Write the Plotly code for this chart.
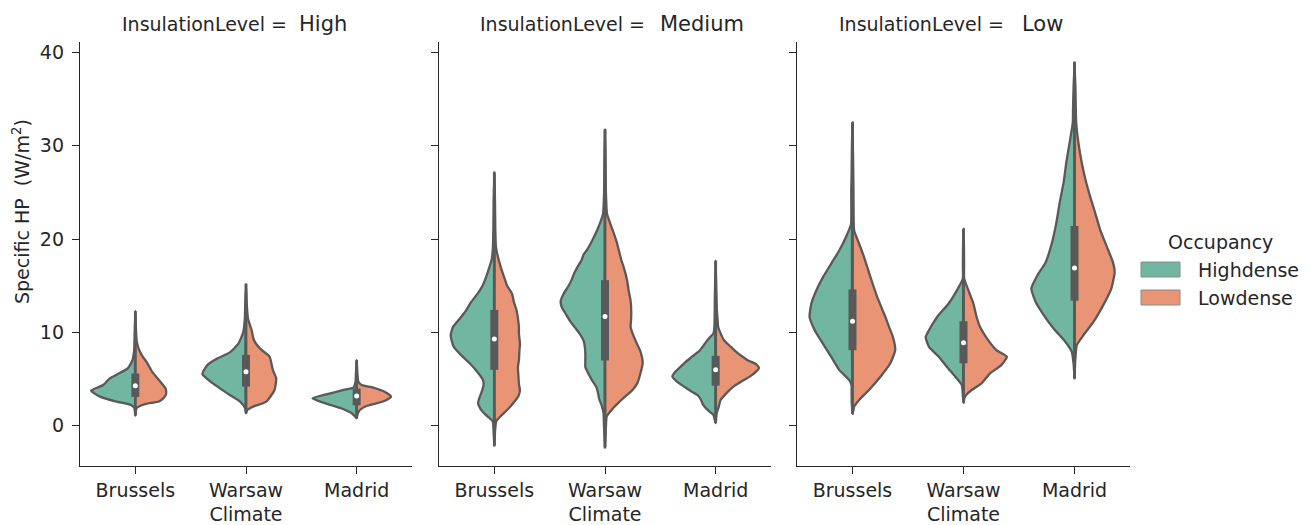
import plotly.graph_objects as go

# ---------------- data ----------------
climates = ["Brussels", "Warsaw", "Madrid"]
levels = ["High", "Medium", "Low"]
occupancy = ["Highdense", "Lowdense"]

# violin half profiles: (Specific HP value, relative density width)
high_brussels_highdense = [(1.1, 0), (1.9, 1), (2.24, 4.3), (2.6, 19.3), (3.13, 36), (3.5, 42), (3.77, 45),
                           (4.37, 32.7), (5.08, 26), (5.55, 17.7), (6.15, 7.7), (7.0, 3), (8.1, 1.2), (9.5, 0.8), (12.3, 0)]
high_brussels_lowdense = [(1.1, 0), (1.9, 1.3), (2.35, 10.7), (2.6, 24), (3.0, 29), (3.4, 31.3), (4.0, 30.7),
                          (4.9, 24), (5.8, 17), (6.7, 12.3), (7.5, 7), (8.1, 4), (9.0, 1.5), (10.0, 0.8), (12.3, 0)]
high_warsaw_highdense = [(1.35, 0), (1.9, 1), (2.6, 6), (3.5, 19.3), (4.73, 36), (5.55, 44.3), (6.5, 39.3),
                         (7.2, 29.3), (7.9, 16), (8.8, 7.7), (10.06, 2.7), (11.5, 1.2), (13.0, 0.8), (15.2, 0)]
high_warsaw_lowdense = [(1.35, 0), (1.7, 1.3), (2.06, 7.3), (2.6, 20.7), (3.84, 29), (5.08, 30.7), (5.97, 27.3),
                        (7.4, 24), (8.3, 14), (9.2, 8), (10.24, 5.7), (11.5, 2), (13.0, 0.8), (15.2, 0)]
high_madrid_highdense = [(0.82, 0), (1.0, 1.7), (1.35, 5), (1.78, 13.3), (2.35, 30), (2.95, 45), (3.4, 30),
                         (3.84, 13.3), (4.1, 3.3), (4.7, 1.2), (5.5, 0.8), (7.04, 0)]
high_madrid_lowdense = [(0.82, 0), (1.3, 1), (1.7, 3.3), (2.13, 10), (2.6, 26.7), (3.13, 35), (3.66, 28.3),
                        (4.1, 16.7), (4.37, 5), (4.73, 1.7), (5.5, 0.8), (7.04, 0)]

medium_brussels_highdense = [(-2.1, 0), (-0.5, 0.8), (0.5, 1.7), (1.2, 9), (1.8, 14), (2.4, 16.5), (2.9, 15.5),
                             (3.6, 13), (4.3, 11), (4.9, 11.5), (5.6, 16), (6.7, 25), (7.6, 34), (8.5, 41.5),
                             (9.7, 44.4), (10.6, 42), (11.5, 35), (12.4, 28.5), (13.2, 24), (14.15, 17),
                             (15.0, 12), (15.9, 8.5), (17.0, 5), (17.8, 2.7), (19.0, 1.5), (21.0, 1.0),
                             (24.0, 0.7), (27.1, 0)]
medium_brussels_lowdense = [(-2.1, 0), (-0.5, 0.8), (0.5, 2), (1.2, 8), (1.8, 14), (2.6, 20.5), (3.2, 24.5),
                            (3.8, 26), (4.5, 25), (5.3, 24.5), (6.3, 24), (7.04, 25), (8.0, 25.5), (8.8, 26),
                            (9.9, 25), (10.6, 25), (11.5, 24), (12.4, 22.5), (13.2, 20), (14.15, 18),
                            (15.0, 13), (15.6, 11), (17.0, 6.5), (18.4, 3), (19.1, 1.7), (21.0, 1.0),
                            (24.0, 0.7), (27.1, 0)]
medium_warsaw_highdense = [(-2.3, 0), (-0.5, 0.8), (0.5, 1.2), (1.35, 1.5), (2.06, 3), (2.9, 6), (3.5, 7),
                           (4.2, 9), (4.9, 13.3), (5.6, 17), (6.3, 20), (7.0, 20), (7.75, 20), (8.46, 20.5),
                           (9.17, 22), (9.9, 26), (10.6, 31), (11.3, 36), (12.0, 40), (12.7, 44), (13.4, 45),
                           (14.15, 42), (15.0, 37), (15.6, 34), (16.3, 31.5), (17.0, 28), (17.7, 24),
                           (18.4, 21.5), (18.8, 18.5), (19.84, 13), (21.26, 6.7), (22.7, 2), (23.4, 1.5),
                           (25.0, 0.9), (28.0, 0.6), (31.7, 0)]
medium_warsaw_lowdense = [(-2.3, 0), (-0.5, 0.8), (0.5, 1.2), (1.0, 1.7), (1.7, 6.7), (2.4, 13), (2.9, 18),
                          (3.84, 28), (4.6, 33), (5.6, 36), (6.7, 38.3), (7.4, 37.5), (8.1, 35.5), (8.9, 32),
                          (9.9, 28), (10.6, 26), (11.3, 26.5), (12.2, 26.7), (13.4, 26), (14.5, 24),
                          (15.57, 22.5), (17.0, 19), (17.7, 16.7), (18.4, 15), (19.84, 11.5), (21.26, 6.7),
                          (22.7, 2), (23.4, 1.5), (25.0, 0.9), (28.0, 0.6), (31.7, 0)]
medium_madrid_highdense = [(0.3, 0), (1.17, 2.3), (1.5, 6), (1.9, 10), (2.3, 13), (2.8, 15), (3.2, 17.5),
                           (3.7, 25), (4.2, 32), (4.7, 39), (5.3, 44), (5.8, 41), (6.3, 36), (6.8, 31),
                           (7.4, 24), (8.1, 16), (8.8, 11), (9.4, 6.5), (9.9, 2.3), (10.6, 1.3), (12.0, 1),
                           (14.0, 0.8), (17.7, 0)]
medium_madrid_lowdense = [(0.3, 0), (1.35, 1), (2.0, 3), (2.77, 5), (3.5, 11), (4.2, 18), (4.8, 27), (5.3, 35),
                          (5.8, 41), (6.2, 44), (6.6, 41), (7.0, 33), (7.5, 26), (8.0, 20), (8.5, 15),
                          (9.17, 8.5), (9.9, 5), (10.6, 2.5), (11.3, 2), (12.5, 1.2), (14.0, 0.8), (17.7, 0)]

low_brussels_highdense = [(1.3, 0), (2.5, 0.8), (3.5, 0.9), (4.37, 1), (4.9, 3.3), (5.97, 13.3), (7.4, 21.7),
                          (8.8, 30), (10.24, 38.3), (11.66, 43.5), (13.1, 41.7), (14.5, 36.7), (15.9, 30),
                          (17.35, 21.7), (18.8, 13.3), (20.2, 6.7), (21.6, 1.5), (23.0, 1.2), (25.0, 1.3),
                          (27.0, 0.9), (30.0, 0.6), (32.5, 0)]
low_brussels_lowdense = [(1.3, 0), (1.7, 1), (2.06, 1.7), (2.77, 6.7), (3.84, 16.7), (5.26, 28.3), (6.7, 38.3),
                         (8.1, 43.3), (9.5, 41), (10.6, 37), (11.66, 33.3), (13.8, 25), (15.9, 18.3),
                         (18.06, 11.7), (19.5, 6.7), (20.9, 1.7), (22.0, 1.2), (25.0, 1), (28.0, 0.7), (32.5, 0)]
low_warsaw_highdense = [(2.5, 0), (3.3, 0.7), (4.37, 1.7), (5.26, 8.3), (6.3, 16.7), (7.4, 25), (8.46, 35),
                        (9.5, 38.3), (10.24, 35), (11.66, 26.7), (13.1, 15), (14.5, 6.7), (15.75, 0.7),
                        (17.0, 0.6), (19.0, 0.5), (21.1, 0)]
low_warsaw_lowdense = [(2.5, 0), (3.0, 1), (3.3, 2.7), (3.84, 8.3), (4.55, 18.3), (5.6, 26.7), (6.5, 38.3),
                       (7.4, 44), (8.1, 33.3), (9.17, 25), (10.6, 16.7), (11.66, 13.3), (13.1, 10), (14.5, 5),
                       (15.75, 0.7), (17.0, 0.6), (19.0, 0.5), (21.1, 0)]
low_madrid_highdense = [(5.1, 0), (6.5, 0.8), (7.9, 2.7), (9.0, 9.3), (10.4, 21), (11.84, 31), (13.26, 39.3),
                        (14.7, 43.7), (16.1, 37.7), (17.5, 29.3), (19.66, 22.7), (21.8, 18.3), (23.9, 15),
                        (26.1, 11), (28.2, 8.3), (30.3, 5), (32.5, 1.7), (34.0, 1.5), (36.0, 1), (38.9, 0)]
low_madrid_lowdense = [(5.1, 0), (7.0, 0.8), (8.64, 2.3), (9.7, 9), (11.1, 19), (12.9, 29), (14.7, 37.3),
                       (16.46, 40.7), (17.5, 39), (19.3, 32.3), (21.1, 25.7), (22.9, 20.7), (24.6, 15.7),
                       (26.1, 11.7), (28.2, 7.3), (30.3, 4), (32.5, 1.7), (34.0, 1.3), (36.0, 1), (38.9, 0)]

# quartiles / medians per level, in climate order
q1_high, median_high, q3_high = [3.1, 4.2, 2.2], [4.3, 5.8, 3.2], [5.6, 7.6, 4.0]
q1_medium, median_medium, q3_medium = [6.0, 7.0, 4.3], [9.3, 11.7, 6.0], [12.4, 15.6, 7.5]
q1_low, median_low, q3_low = [8.1, 6.7, 13.4], [11.2, 8.9, 16.9], [14.6, 11.2, 21.4]

yticks = [0, 10, 20, 30, 40]

# ---------------- assemble ----------------
profiles = {
    ("High", "Brussels"): (high_brussels_highdense, high_brussels_lowdense),
    ("High", "Warsaw"): (high_warsaw_highdense, high_warsaw_lowdense),
    ("High", "Madrid"): (high_madrid_highdense, high_madrid_lowdense),
    ("Medium", "Brussels"): (medium_brussels_highdense, medium_brussels_lowdense),
    ("Medium", "Warsaw"): (medium_warsaw_highdense, medium_warsaw_lowdense),
    ("Medium", "Madrid"): (medium_madrid_highdense, medium_madrid_lowdense),
    ("Low", "Brussels"): (low_brussels_highdense, low_brussels_lowdense),
    ("Low", "Warsaw"): (low_warsaw_highdense, low_warsaw_lowdense),
    ("Low", "Madrid"): (low_madrid_highdense, low_madrid_lowdense),
}
boxes = {"High": (q1_high, median_high, q3_high),
         "Medium": (q1_medium, median_medium, q3_medium),
         "Low": (q1_low, median_low, q3_low)}

GREEN = "#71b6a1"
ORANGE = "#e99575"
GRAY = "#595959"
INK = "#262626"
FONT = "DejaVu Sans"

wmax = max(w for pair in profiles.values() for prof in pair for _, w in prof)
HALF = 0.4

fig = go.Figure()
for i, lvl in enumerate(levels):
    xa = "x" if i == 0 else f"x{i + 1}"
    ya = "y" if i == 0 else f"y{i + 1}"
    q1s, meds, q3s = boxes[lvl]
    for j, clim in enumerate(climates):
        pair = profiles[(lvl, clim)]
        for prof, side, color in ((pair[0], -1, GREEN), (pair[1], 1, ORANGE)):
            ys = [v for v, _ in prof]
            xs = [j + side * w / wmax * HALF for _, w in prof]
            xs.append(xs[0])
            ys.append(ys[0])
            fig.add_trace(go.Scatter(x=xs, y=ys, mode="lines", fill="toself", fillcolor=color,
                                     line=dict(color=GRAY, width=2.3, shape="spline", smoothing=0.5),
                                     xaxis=xa, yaxis=ya, showlegend=False, hoverinfo="skip"))
        lo = min(pair[0][0][0], pair[1][0][0])
        hi = max(pair[0][-1][0], pair[1][-1][0])
        fig.add_trace(go.Scatter(x=[j, j], y=[lo, hi], mode="lines", line=dict(color=GRAY, width=2.8),
                                 xaxis=xa, yaxis=ya, showlegend=False, hoverinfo="skip"))
        fig.add_trace(go.Scatter(x=[j, j], y=[q1s[j], q3s[j]], mode="lines", line=dict(color=GRAY, width=8),
                                 xaxis=xa, yaxis=ya, showlegend=False, hoverinfo="skip"))
        fig.add_trace(go.Scatter(x=[j], y=[meds[j]], mode="markers",
                                 marker=dict(color="white", size=5, line=dict(width=0)),
                                 xaxis=xa, yaxis=ya, showlegend=False, hoverinfo="skip"))

W, H = 1309, 525
ML, MR, MT, MB = 80, 179, 42, 59
PW, PH = W - ML - MR, H - MT - MB


def px(x):
    return (x - ML) / PW


def py(y):
    return (H - MB - y) / PH


domains = [(px(80), px(412)), (px(439), px(771)), (px(797), px(1130))]
axis_common = dict(showline=True, linecolor=INK, linewidth=1.3, ticks="outside", ticklen=7, tickwidth=1.3,
                   tickcolor=INK, showgrid=False, zeroline=False,
                   tickfont=dict(family=FONT, size=19, color=INK))
layout = dict(width=W, height=H, margin=dict(l=ML, r=MR, t=MT, b=MB, autoexpand=False),
              plot_bgcolor="white", paper_bgcolor="white", showlegend=False,
              font=dict(family=FONT, size=19, color=INK))
for i in range(3):
    sx = "" if i == 0 else str(i + 1)
    layout["xaxis" + sx] = dict(axis_common, domain=list(domains[i]), range=[-0.5, 2.5],
                                tickvals=[0, 1, 2], ticktext=climates, anchor="y" + sx,
                                ticklabelstandoff=0,
                                title=dict(text="Climate", font=dict(family=FONT, size=19, color=INK), standoff=9))
    layout["yaxis" + sx] = dict(axis_common, domain=[0, 1], range=[-4.3, 41.1], tickvals=yticks,
                                anchor="x" + sx, showticklabels=(i == 0), ticklabelstandoff=4)
fig.update_layout(**layout)

# panel titles
title_left = [120, 478, 837]
value_left = [297, 658, 1020]
for i, lvl in enumerate(levels):
    fig.add_annotation(x=px(title_left[i]), y=py(24), xref="paper", yref="paper", xanchor="left",
                       yanchor="middle", text="InsulationLevel =", showarrow=False,
                       font=dict(family=FONT, size=19, color=INK))
    fig.add_annotation(x=px(value_left[i]), y=py(24), xref="paper", yref="paper", xanchor="left",
                       yanchor="middle", text=lvl, showarrow=False,
                       font=dict(family=FONT, size=21, color=INK))

# y axis title
fig.add_annotation(x=px(21), y=py(212), xref="paper", yref="paper", xanchor="center", yanchor="middle",
                   text="Specific HP  (W/m<sup>2</sup>)", textangle=-90, showarrow=False,
                   font=dict(family=FONT, size=19, color=INK))

# legend
fig.add_annotation(x=px(1220), y=py(242), xref="paper", yref="paper", xanchor="center", yanchor="middle",
                   text="Occupancy", showarrow=False, font=dict(family=FONT, size=19, color=INK))
for k, (name, color) in enumerate(zip(occupancy, [GREEN, ORANGE])):
    top = 262 + k * 28
    fig.add_shape(type="rect", xref="paper", yref="paper", x0=px(1141), x1=px(1180), y0=py(top + 15),
                  y1=py(top), fillcolor=color, line=dict(color="#8a8a8a", width=1))
    fig.add_annotation(x=px(1196), y=py(top + 7.5), xref="paper", yref="paper", xanchor="left",
                       yanchor="middle", text=name, showarrow=False,
                       font=dict(family=FONT, size=19, color=INK))

fig.write_html("out.html", config={"displayModeBar": False},
               post_script="document.body.style.margin='0';document.body.style.overflow='hidden';")
